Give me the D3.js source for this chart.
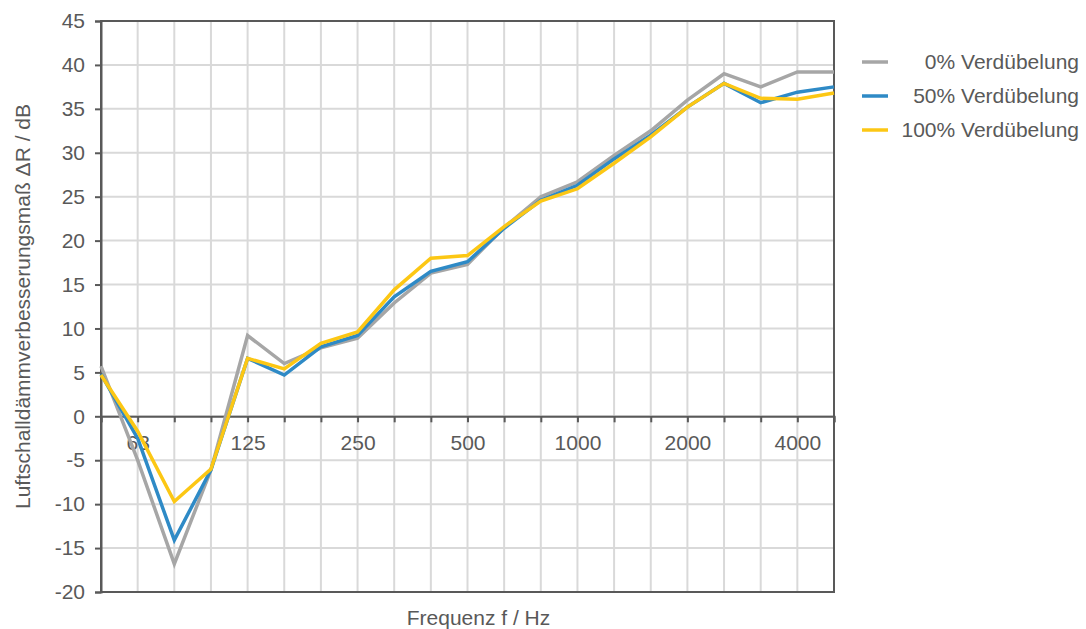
<!DOCTYPE html>
<html>
<head>
<meta charset="utf-8">
<script src="https://cdn.jsdelivr.net/npm/d3@7"></script>
<style>
  body { margin: 0; background: #fff; }
  text { font-family: "Liberation Sans", Arial, sans-serif; fill: #595959; }
</style>
</head>
<body>
<script>
const bands = ['50', '63', '80', '100', '125', '160', '200', '250', '315', '400', '500',
  '630', '800', '1000', '1250', '1600', '2000', '2500', '3150', '4000', '5000']
const labeledBands = ['63', '125', '250', '500', '1000', '2000', '4000']
const yTicks = [-20, -15, -10, -5, 0, 5, 10, 15, 20, 25, 30, 35, 40, 45]

const seriesNames = ['0% Verdübelung', '50% Verdübelung', '100% Verdübelung']
const dowel0 = [5.7, -5.0, -16.8, -6.1, 9.2, 6.0, 7.8, 8.9, 12.9, 16.3, 17.3,
  21.5, 25.0, 26.7, 29.7, 32.5, 36.0, 39.0, 37.5, 39.2, 39.2]
const dowel50 = [4.8, -2.5, -14.1, -6.1, 6.6, 4.7, 7.9, 9.2, 13.6, 16.5, 17.6,
  21.4, 24.6, 26.3, 29.3, 32.0, 35.2, 37.9, 35.7, 36.9, 37.5]
const dowel100 = [4.7, -1.7, -9.7, -6.0, 6.6, 5.4, 8.3, 9.6, 14.4, 18.0, 18.3,
  21.6, 24.5, 25.9, 28.8, 31.8, 35.2, 37.9, 36.2, 36.1, 36.8]
const colors = ['#a6a6a6', '#2e8ac6', '#fcc714']

const width = 1086
const height = 629
const plot = { left: 101, right: 834, top: 21, bottom: 592 }
const fontSize = 21

const svg = d3.select('body').append('svg')
  .attr('width', width)
  .attr('height', height)

const x = d3.scalePoint()
  .domain(bands)
  .range([plot.left, plot.right])

const y = d3.scaleLinear()
  .domain([-20, 45])
  .range([plot.bottom, plot.top])

// grid
svg.append('g')
  .selectAll('line.vgrid')
  .data(bands)
  .enter()
  .append('line')
  .attr('x1', d => x(d))
  .attr('x2', d => x(d))
  .attr('y1', plot.top)
  .attr('y2', plot.bottom)
  .attr('stroke', '#d9d9d9')
  .attr('stroke-width', 2)

svg.append('g')
  .selectAll('line.hgrid')
  .data(yTicks)
  .enter()
  .append('line')
  .attr('x1', plot.left)
  .attr('x2', plot.right)
  .attr('y1', d => y(d))
  .attr('y2', d => y(d))
  .attr('stroke', '#d9d9d9')
  .attr('stroke-width', 2)

// frame
svg.append('rect')
  .attr('x', plot.left)
  .attr('y', plot.top)
  .attr('width', plot.right - plot.left)
  .attr('height', plot.bottom - plot.top)
  .attr('fill', 'none')
  .attr('stroke', '#595959')
  .attr('stroke-width', 2)

// y axis
const yAxis = d3.axisLeft(y).tickValues(yTicks).tickSize(6).tickPadding(10)
  .tickFormat(d => String(d))
const gy = svg.append('g')
  .attr('transform', `translate(${plot.left}, 0)`)
  .call(yAxis)
gy.select('.domain').attr('stroke', '#595959').attr('stroke-width', 2)
gy.selectAll('.tick line').attr('stroke', '#595959').attr('stroke-width', 2)
gy.selectAll('.tick text').attr('font-size', fontSize).attr('fill', '#595959')
  .style('font-family', '"Liberation Sans", Arial, sans-serif')

// x axis at zero
const xAxis = d3.axisBottom(x).tickSize(6).tickPadding(13)
  .tickFormat(d => labeledBands.includes(d) ? d : '')
const gx = svg.append('g')
  .attr('transform', `translate(0, ${y(0)})`)
  .call(xAxis)
gx.select('.domain').attr('stroke', '#595959').attr('stroke-width', 2)
gx.selectAll('.tick line').attr('stroke', '#595959').attr('stroke-width', 2)
gx.selectAll('.tick text').attr('font-size', fontSize).attr('fill', '#595959')
  .style('font-family', '"Liberation Sans", Arial, sans-serif')

// lines
const line = d3.line()
  .x((d, i) => x(bands[i]))
  .y(d => y(d))

const allSeries = [dowel0, dowel50, dowel100]
svg.append('g')
  .selectAll('path.series')
  .data(allSeries)
  .enter()
  .append('path')
  .attr('d', d => line(d))
  .attr('fill', 'none')
  .attr('stroke', (d, i) => colors[i])
  .attr('stroke-width', 3.5)
  .attr('stroke-linejoin', 'miter')

// axis titles
svg.append('text')
  .attr('x', (plot.left + plot.right) / 2 + 11)
  .attr('y', 625)
  .attr('text-anchor', 'middle')
  .attr('font-size', fontSize)
  .text('Frequenz f / Hz')

svg.append('text')
  .attr('transform', `translate(30, ${(plot.top + plot.bottom) / 2}) rotate(-90)`)
  .attr('text-anchor', 'middle')
  .attr('font-size', fontSize)
  .text('Luftschalldämmverbesserungsmaß ΔR / dB')

// legend
const legend = svg.append('g')
  .selectAll('g.item')
  .data(seriesNames)
  .enter()
  .append('g')
  .attr('transform', (d, i) => `translate(0, ${62 + i * 34})`)

legend.append('line')
  .attr('x1', 862)
  .attr('x2', 888)
  .attr('stroke', (d, i) => colors[i])
  .attr('stroke-width', 3.5)

legend.append('text')
  .attr('x', 1079)
  .attr('dy', '0.35em')
  .attr('text-anchor', 'end')
  .attr('font-size', fontSize)
  .text(d => d)
</script>
</body>
</html>
